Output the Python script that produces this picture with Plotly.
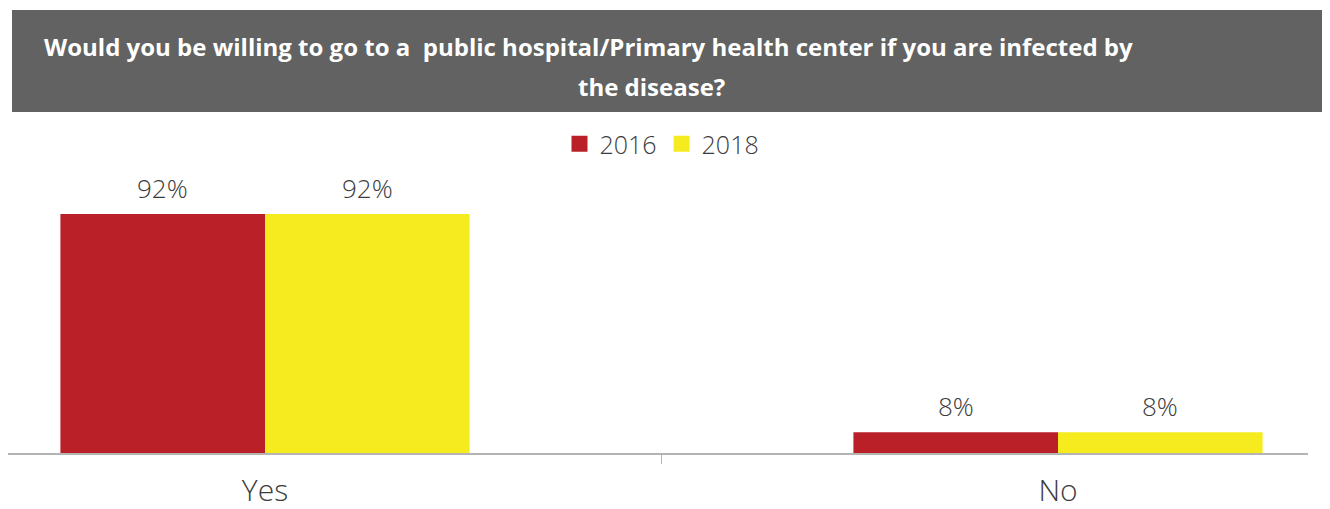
import plotly.graph_objects as go

# data
categories = ['Yes', 'No']
years = ['2016', '2018']
values_2016 = [92, 8]
values_2018 = [92, 8]
labels_2016 = ['92%', '8%']
labels_2018 = ['92%', '8%']
title_lines = ['Would you be willing to go to a  public hospital/Primary health center if you are infected by',
               'the disease?']

colors = {'2016': '#BA2028', '2018': '#F6EB1E'}
text_color = '#3C3C3C'
header_gray = '#616261'

# page has an 8px body margin, so work in page pixels and convert
OFF = 8
W, H = 1330 - OFF, 509 - OFF
m_l, m_r, m_t, m_b = 0, 22, 133, 56
plot_w = W - m_l - m_r
plot_h = H - m_t - m_b
bargap = 0.484
bar_w = (1 - bargap) / 2
cat_px = 793          # pixel distance between category centres
first_cat = 265       # page x of first category centre
px_per_pct = 2.598


def px_x(p):
    return (p - OFF - m_l) / plot_w


def px_y(p):
    return (H + OFF - m_b - p) / plot_h


fig = go.Figure()
series = [(years[0], values_2016, labels_2016), (years[1], values_2018, labels_2018)]
for name, vals, labs in series:
    fig.add_trace(go.Bar(x=categories, y=vals, name=name, showlegend=False,
                         marker=dict(color=colors[name], line=dict(width=0)),
                         hoverinfo='skip'))
# legend entries with bigger square swatches
for name in years:
    fig.add_trace(go.Scatter(x=[None], y=[None], mode='markers', name=name,
                             marker=dict(symbol='square', size=16, color=colors[name])))

# value labels above each bar
for k, (name, vals, labs) in enumerate(series):
    off = (k - 0.5) * bar_w
    for i, (v, t) in enumerate(zip(vals, labs)):
        fig.add_annotation(x=i + off, y=v, text=t, xref='x', yref='y',
                           showarrow=False, yshift=26, yanchor='middle',
                           font=dict(size=26, color=text_color, family='Open Sans', weight=300))

# header box
fig.add_shape(type='rect', xref='paper', yref='paper',
              x0=px_x(12), x1=px_x(1340), y0=px_y(112), y1=px_y(10),
              fillcolor=header_gray, line=dict(width=0), layer='below')
fig.add_annotation(xref='paper', yref='paper', x=px_x(42), y=px_y(47),
                   xanchor='left', yanchor='middle', showarrow=False,
                   text='<b>' + title_lines[0] + '</b>',
                   font=dict(size=24, color='white', family='Open Sans'))
fig.add_annotation(xref='paper', yref='paper', x=px_x(651), y=px_y(87),
                   xanchor='center', yanchor='middle', showarrow=False,
                   text='<b>' + title_lines[1] + '</b>',
                   font=dict(size=24, color='white', family='Open Sans'))

left_x = -(first_cat - OFF - m_l) / cat_px
right_x = (m_l + plot_w + OFF - first_cat) / cat_px

fig.update_layout(
    width=W, height=H,
    margin=dict(l=m_l, r=m_r, t=m_t, b=m_b),
    paper_bgcolor='white', plot_bgcolor='white',
    barmode='group', bargap=bargap, bargroupgap=0,
    font=dict(family='Open Sans', color=text_color),
    showlegend=True,
    legend=dict(orientation='h', x=px_x(662), xanchor='center',
                y=px_y(144), yanchor='middle',
                font=dict(size=25, color=text_color, weight=300), itemclick=False),
    xaxis=dict(type='category', range=[left_x, right_x], automargin=False,
               showline=True, linecolor='#B4B4B4', linewidth=2,
               ticks='outside', tickson='boundaries', ticklen=9,
               tickcolor='#B4B4B4', tickwidth=1,
               ticklabelstandoff=10,
               tickfont=dict(size=30, color=text_color, weight=300),
               showgrid=False, zeroline=False),
    yaxis=dict(range=[0, plot_h / px_per_pct], visible=False,
               showgrid=False, zeroline=False),
)

fig.write_html('out.html')
